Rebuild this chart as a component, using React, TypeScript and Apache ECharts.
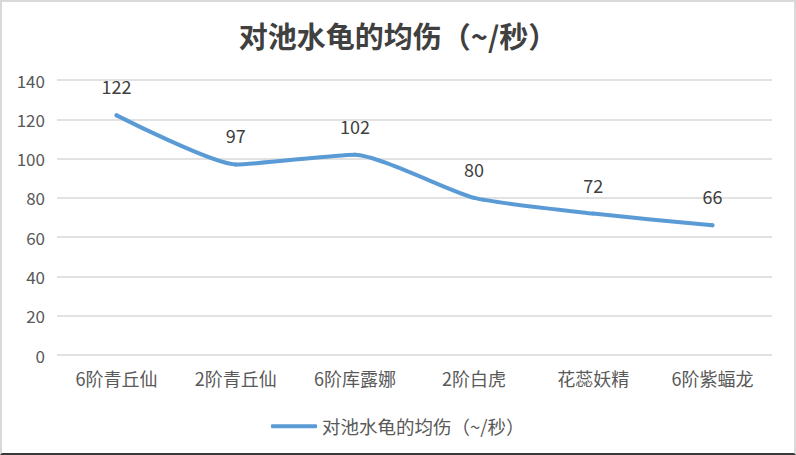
import React, { useEffect, useRef } from "react";
import * as echarts from "echarts";

const titleText = "对池水龟的均伤（~/秒）";
const categories = ["6阶青丘仙", "2阶青丘仙", "6阶库露娜", "2阶白虎", "花蕊妖精", "6阶紫蝠龙"];
const seriesName = "对池水龟的均伤（~/秒）";
const values = [122, 97, 102, 80, 72, 66];
const yMin = 0;
const yMax = 140;
const yStep = 20;

const FONT = "'Noto Sans CJK SC', 'Noto Sans', sans-serif";

export default function App() {
  const ref = useRef<HTMLDivElement>(null);
  useEffect(() => {
    if (!ref.current) return;
    const chart = echarts.init(ref.current, undefined, { renderer: "svg" });
    chart.setOption({
      animation: false,
      backgroundColor: "transparent",
      title: {
        text: titleText,
        left: "center",
        top: 15,
        textStyle: { fontFamily: FONT, fontSize: 29, fontWeight: "bold", color: "#404040" },
      },
      grid: { left: 57, right: 24, top: 80, bottom: 100, containLabel: false },
      xAxis: {
        type: "category",
        data: categories,
        boundaryGap: true,
        axisLine: { show: false },
        axisTick: { show: false },
        axisLabel: { fontFamily: FONT, fontSize: 18, color: "#595959", margin: 14 },
        splitLine: { show: false },
      },
      yAxis: {
        type: "value",
        min: yMin,
        max: yMax,
        interval: yStep,
        axisLine: { show: false },
        axisTick: { show: false },
        axisLabel: { fontFamily: FONT, fontSize: 17, color: "#595959", margin: 12 },
        splitLine: { lineStyle: { color: "#d9d9d9", width: 1.5 } },
      },
      legend: {
        top: 412,
        left: 266,
        itemWidth: 46,
        itemHeight: 4,
        itemGap: 8,
        icon: "roundRect",
        data: [seriesName],
        itemStyle: { color: "#5b9bd5", opacity: 1 },
        textStyle: { fontFamily: FONT, fontSize: 18.5, color: "#595959" },
      },
      series: [
        {
          name: seriesName,
          type: "line",
          data: values,
          smooth: 0.18,
          symbol: "circle",
          symbolSize: 4,
          showSymbol: true,
          lineStyle: { color: "#5b9bd5", width: 4, cap: "round" },
          itemStyle: { color: "#5b9bd5" },
          label: {
            show: true,
            position: "top",
            distance: 18,
            fontFamily: FONT,
            fontSize: 18,
            color: "#404040",
          },
        },
      ],
    });
    return () => chart.dispose();
  }, []);
  return (
    <div
      style={{
        position: "fixed",
        left: 0,
        top: 0,
        width: 796,
        height: 455,
        boxSizing: "border-box",
        borderTop: "2px solid #d9d9d9",
        borderLeft: "2px solid #d9d9d9",
        borderRight: "2px solid #d9d9d9",
        borderBottom: "2px solid #3a3a3a",
        background: "#fff",
      }}
    >
      <div ref={ref} style={{ position: "absolute", left: -2, top: -2, width: 796, height: 455 }} />
    </div>
  );
}
